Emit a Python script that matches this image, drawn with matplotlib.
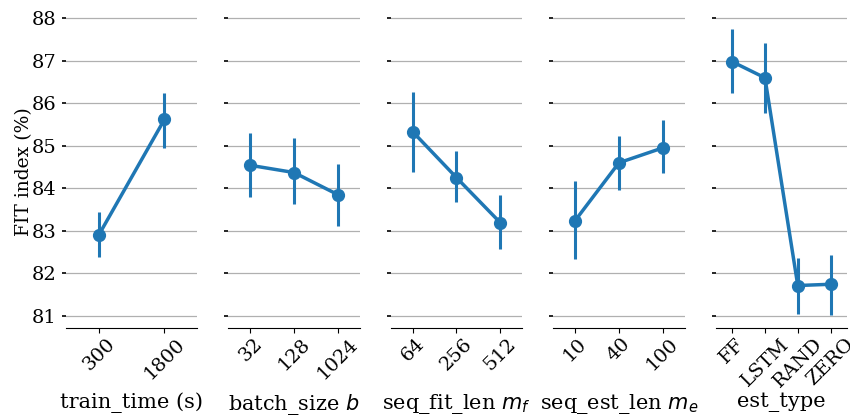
import matplotlib
matplotlib.use('Agg')
import matplotlib.pyplot as plt

plt.rcParams['font.family'] = ['DejaVu Serif']
plt.rcParams['font.size'] = 14

# mean FIT index and 95% CI per hyperparameter setting
train_time = ['300', '1800']
train_time_mean = [82.90, 85.62]
train_time_lo = [82.38, 84.95]
train_time_hi = [83.43, 86.25]

batch_size = ['32', '128', '1024']
batch_size_mean = [84.54, 84.37, 83.85]
batch_size_lo = [83.79, 83.62, 83.12]
batch_size_hi = [85.31, 85.19, 84.58]

seq_fit_len = ['64', '256', '512']
seq_fit_len_mean = [85.33, 84.25, 83.19]
seq_fit_len_lo = [84.38, 83.68, 82.56]
seq_fit_len_hi = [86.27, 84.87, 83.85]

seq_est_len = ['10', '40', '100']
seq_est_len_mean = [83.24, 84.60, 84.95]
seq_est_len_lo = [82.33, 83.96, 84.35]
seq_est_len_hi = [84.16, 85.24, 85.61]

est_type = ['FF', 'LSTM', 'RAND', 'ZERO']
est_type_mean = [86.98, 86.60, 81.71, 81.74]
est_type_lo = [86.25, 85.76, 81.05, 81.02]
est_type_hi = [87.74, 87.42, 82.36, 82.44]

panels = [
    ('train_time (s)', train_time, train_time_mean, train_time_lo, train_time_hi),
    ('batch_size $b$', batch_size, batch_size_mean, batch_size_lo, batch_size_hi),
    ('seq_fit_len $m_f$', seq_fit_len, seq_fit_len_mean, seq_fit_len_lo, seq_fit_len_hi),
    ('seq_est_len $m_e$', seq_est_len, seq_est_len_mean, seq_est_len_lo, seq_est_len_hi),
    ('est_type', est_type, est_type_mean, est_type_lo, est_type_hi),
]

color = '#1f77b4'
fig, axes = plt.subplots(1, 5, figsize=(8.5, 4.15), dpi=100, sharey=True)
fig.subplots_adjust(left=0.0776, right=0.9965, bottom=0.2096, top=0.964, wspace=0.237)

for ax, (label, cats, mean, lo, hi) in zip(axes, panels):
    x = list(range(len(cats)))
    ax.vlines(x, lo, hi, color=color, lw=2.2, zorder=3)
    ax.plot(x, mean, color=color, lw=2.5, marker='o', ms=8.5, zorder=4)
    ax.set_xlim(-0.5, len(cats) - 0.5)
    ax.set_xticks(x)
    ax.set_xticklabels(cats, rotation=45)
    ax.set_xlabel(label, fontsize=15)
    ax.xaxis.set_label_coords(0.5, -0.205)
    ax.yaxis.grid(True, color='#b0b0b0', lw=0.9)
    ax.set_axisbelow(True)
    for side in ['left', 'right', 'top']:
        ax.spines[side].set_visible(False)
    ax.tick_params(axis='y', length=3, width=1.2)
    ax.tick_params(axis='x', length=3.5, pad=1.5)

axes[0].set_ylim(80.71, 88.08)
axes[0].set_yticks(range(81, 89))
axes[0].set_ylabel('FIT index (%)', fontsize=13.5, labelpad=-1)
for ax in axes[1:]:
    ax.tick_params(axis='y', labelleft=False)

fig.savefig('out.png')
